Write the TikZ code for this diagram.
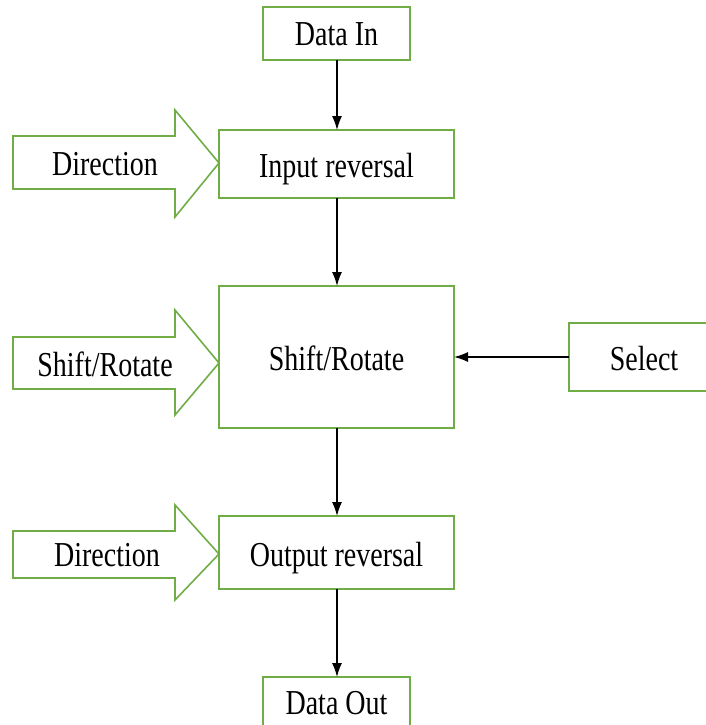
\documentclass[tikz,border=0pt]{standalone}
\usepackage{fontspec}
\setmainfont{Liberation Serif}
\usepackage{graphicx}
\usetikzlibrary{arrows.meta}
\definecolor{boxgreen}{RGB}{112,173,71}
\newcommand\lbl[1]{\scalebox{0.8}[1]{#1}}
\tikzset{
  blk/.style={draw=boxgreen, line width=1.6pt, fill=white},
  txt/.style={font=\fontsize{35}{40}\selectfont, inner sep=0pt, anchor=base},
  flow/.style={draw=black, line width=1.3pt, -{Latex[length=14pt,width=10pt]}},
  fatarrow/.style={draw=boxgreen, line width=1.6pt, fill=white, line join=miter}
}
\begin{document}
\begin{tikzpicture}[x=1pt,y=-1pt]
\useasboundingbox (0,0) rectangle (705,725);
% boxes
\draw[blk] (263,7) rectangle (410,60);
\node[txt] (datain) at (336.5,46) {\lbl{Data In}};
\coordinate (datainS) at (337,60);
\draw[blk] (219,130) rectangle (454,198);
\node[txt] (inrev) at (336.5,177) {\lbl{Input reversal}};
\coordinate (inrevN) at (337,130);
\coordinate (inrevS) at (337,198);
\draw[blk] (219,286) rectangle (454,428);
\node[txt] (shift) at (336.5,370) {\lbl{Shift/Rotate}};
\coordinate (shiftN) at (337,286);
\coordinate (shiftS) at (337,428);
\coordinate (shiftE) at (454,357);
\draw[blk] (569,323) rectangle (712,391);
\node[txt] (select) at (644,370) {\lbl{Select}};
\coordinate (selectW) at (569,357);
\draw[blk] (219,516) rectangle (454,589);
\node[txt] (outrev) at (336.5,566) {\lbl{Output reversal}};
\coordinate (outrevN) at (337,516);
\coordinate (outrevS) at (337,589);
\draw[blk] (263,677) rectangle (410,740);
\node[txt] (dataout) at (336.5,714) {\lbl{Data Out}};
\coordinate (dataoutN) at (337,677);
% block arrows
\draw[fatarrow] (13,136) -- (175,136) -- (175,110) -- (219,163) -- (175,217) -- (175,189) -- (13,189) -- cycle;
\node[txt] (dir1) at (105,175) {\lbl{Direction}};
\draw[fatarrow] (13,337) -- (175,337) -- (175,310) -- (219,363) -- (175,415) -- (175,389) -- (13,389) -- cycle;
\node[txt] (sr) at (105,376) {\lbl{Shift/Rotate}};
\draw[fatarrow] (13,531) -- (175,531) -- (175,505) -- (219,554) -- (175,600) -- (175,578) -- (13,578) -- cycle;
\node[txt] (dir2) at (107,566) {\lbl{Direction}};
% connectors
\draw[flow] (datainS) -- (inrevN);
\draw[flow] (inrevS) -- (shiftN);
\draw[flow] (shiftS) -- (outrevN);
\draw[flow] (outrevS) -- (dataoutN);
\draw[flow] (selectW) -- (shiftE);
\end{tikzpicture}
\end{document}
